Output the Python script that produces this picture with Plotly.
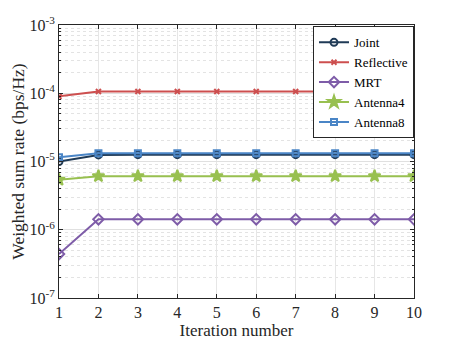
import plotly.graph_objects as go

# -----------------------------------------------------------------------------
# Data
# -----------------------------------------------------------------------------
iterations = [1, 2, 3, 4, 5, 6, 7, 8, 9, 10]
joint = [1.0e-5, 1.25e-5, 1.26e-5, 1.26e-5, 1.26e-5, 1.26e-5, 1.26e-5, 1.26e-5, 1.26e-5, 1.26e-5]
reflective = [9.0e-5, 1.06e-4, 1.06e-4, 1.06e-4, 1.06e-4, 1.06e-4, 1.06e-4, 1.06e-4, 1.06e-4, 1.06e-4]
mrt = [4.4e-7, 1.42e-6, 1.42e-6, 1.42e-6, 1.42e-6, 1.42e-6, 1.42e-6, 1.42e-6, 1.42e-6, 1.42e-6]
antenna4 = [5.4e-6, 6.1e-6, 6.1e-6, 6.1e-6, 6.1e-6, 6.1e-6, 6.1e-6, 6.1e-6, 6.1e-6, 6.1e-6]
antenna8 = [1.15e-5, 1.32e-5, 1.32e-5, 1.32e-5, 1.32e-5, 1.32e-5, 1.32e-5, 1.32e-5, 1.32e-5, 1.32e-5]

y_tickvals = [1e-7, 1e-6, 1e-5, 1e-4, 1e-3]
y_ticktext = ['10<sup>-7</sup>', '10<sup>-6</sup>', '10<sup>-5</sup>', '10<sup>-4</sup>', '10<sup>-3</sup>']
# minor ticks 2..9 in each decade
y_minor = [m * 10.0 ** e for e in range(-7, -3) for m in range(2, 10)]

series = [
    ('Joint', joint, '#1f3a56', 'circle-open', 7),
    ('Reflective', reflective, '#cd4f4f', 'x-thin-open', 5),
    ('MRT', mrt, '#7e5ca8', 'diamond-open', 8),
    ('Antenna4', antenna4, '#98c050', 'star', 9),
    ('Antenna8', antenna8, '#4a85c6', 'square-open', 6),
]

fig = go.Figure()
for name, vals, color, symbol, size in series:
    fig.add_trace(go.Scatter(
        x=iterations, y=vals, name=name, mode='lines+markers',
        line=dict(color=color, width=2),
        marker=dict(symbol=symbol, size=size, color=color,
                    line=dict(color=color, width=2)),
    ))

serif = 'Liberation Serif'

# page body has an 8px margin, so the figure is a bit smaller than the window
fig.update_layout(
    width=449, height=334,
    paper_bgcolor='white', plot_bgcolor='white',
    margin=dict(l=51, r=43, t=17, b=44, autoexpand=False),
    font=dict(family=serif, size=16, color='#262626'),
    legend=dict(
        x=1, y=0.995, xanchor='right', yanchor='top',
        bgcolor='white', bordercolor='#262626', borderwidth=1,
        font=dict(family=serif, size=13, color='#000000'),
        tracegroupgap=0, itemwidth=30,
    ),
)

fig.update_xaxes(
    range=[1, 10], tickvals=iterations, automargin=False,
    title=dict(text='Iteration number', font=dict(family=serif, size=17, color='#262626'), standoff=2),
    showline=True, linecolor='#262626', linewidth=1, mirror='ticks',
    ticks='inside', ticklen=4, tickcolor='#262626',
    showgrid=True, gridcolor='#e6e6e6', gridwidth=1, zeroline=False,
    tickfont=dict(family=serif, size=16, color='#262626'),
)
fig.update_yaxes(
    type='log', range=[-7, -3], automargin=False,
    tickvals=y_tickvals, ticktext=y_ticktext,
    title=dict(text='Weighted sum rate (bps/Hz)', font=dict(family=serif, size=17.5, color='#262626'), standoff=4),
    showline=True, linecolor='#262626', linewidth=1, mirror='ticks',
    ticks='inside', ticklen=4, tickcolor='#262626',
    showgrid=True, gridcolor='#e0e0e0', gridwidth=1, zeroline=False,
    minor=dict(tickmode='array', tickvals=y_minor, ticks='inside', ticklen=2,
               tickcolor='#262626', showgrid=True, gridcolor='#e3e3e3', griddash='dot'),
    tickfont=dict(family=serif, size=16, color='#262626'),
)

fig.write_html('out.html')
